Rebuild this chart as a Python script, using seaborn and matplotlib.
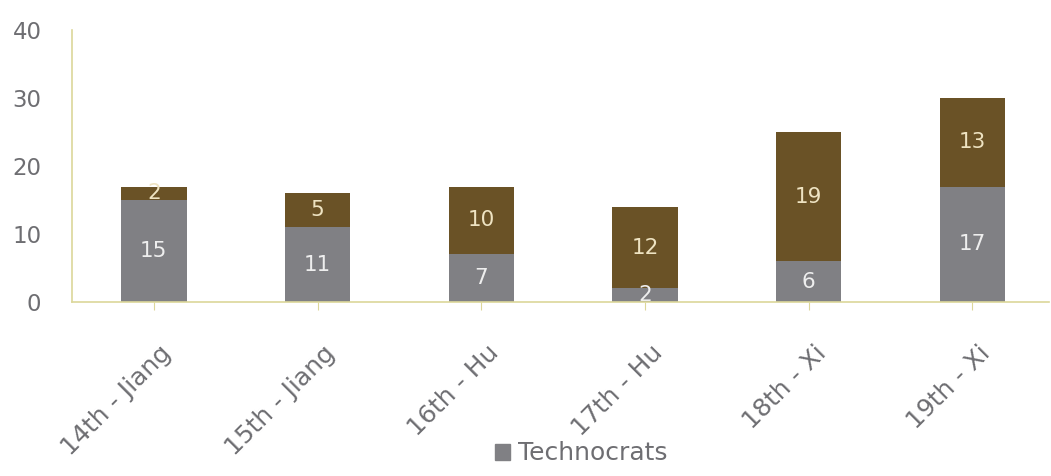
import numpy as np
import pandas as pd
import matplotlib.pyplot as plt
import matplotlib.transforms as mtransforms
import seaborn as sns
from matplotlib.patches import Patch

congresses  = ['14th - Jiang', '15th - Jiang', '16th - Hu', '17th - Hu', '18th - Xi', '19th - Xi']
technocrats = [15, 11, 7, 2, 6, 17]
others      = [2, 5, 10, 12, 19, 13]

GRAY  = '#808084'
BROWN = '#6a5226'
AXIS  = '#dcd79a'
TEXT  = '#6e6e72'

df = pd.DataFrame({'congress': congresses,
                   'technocrats': technocrats,
                   'others': others})
df['total'] = df['technocrats'] + df['others']

sns.set_style('white')
plt.rcParams['font.family'] = ['DejaVu Sans']

fig = plt.figure(figsize=(10.51, 4.76), dpi=100)
ax = fig.add_axes([0.0685, 0.3655, 0.93, 0.571])

# stacked: totals first (brown), technocrats on top of them (gray)
sns.barplot(data=df, x='congress', y='total', color=BROWN, width=0.4,
            saturation=1, linewidth=0, ax=ax)
sns.barplot(data=df, x='congress', y='technocrats', color=GRAY, width=0.4,
            saturation=1, linewidth=0, ax=ax)

for i, (t, o) in enumerate(zip(technocrats, others)):
    ax.text(i, t / 2, str(t), ha='center', va='center',
            fontsize=15.5, color='#eeeeee')
    ax.text(i, t + o / 2, str(o), ha='center', va='center',
            fontsize=15.5, color='#eee3c2')

ax.set_ylim(0, 40)
ax.set_xlim(-0.5, 5.47)
ax.set_yticks([0, 10, 20, 30, 40])
ax.set_xlabel('')
ax.set_ylabel('')

for s in ['top', 'right']:
    ax.spines[s].set_visible(False)
for s in ['left', 'bottom']:
    ax.spines[s].set_color(AXIS)
    ax.spines[s].set_linewidth(1.2)

ax.tick_params(axis='y', length=0, labelsize=16.5, labelcolor=TEXT, pad=22)
ax.tick_params(axis='x', length=6, color=AXIS, direction='out',
               labelsize=18, labelcolor=TEXT, pad=22, bottom=True)
shift = mtransforms.ScaledTranslation(5 / 100, 0, fig.dpi_scale_trans)
for lbl in ax.get_xticklabels():
    lbl.set_rotation(45)
    lbl.set_ha('right')
    lbl.set_rotation_mode('anchor')
    lbl.set_transform(lbl.get_transform() + shift)

fig.legend(handles=[Patch(color=GRAY, label='Technocrats')],
           loc='lower center', bbox_to_anchor=(0.553, -0.025), frameon=False,
           fontsize=18, labelcolor=TEXT, handlelength=0.6, handleheight=0.6,
           handletextpad=0.3)

plt.savefig('out.png', dpi=100)
